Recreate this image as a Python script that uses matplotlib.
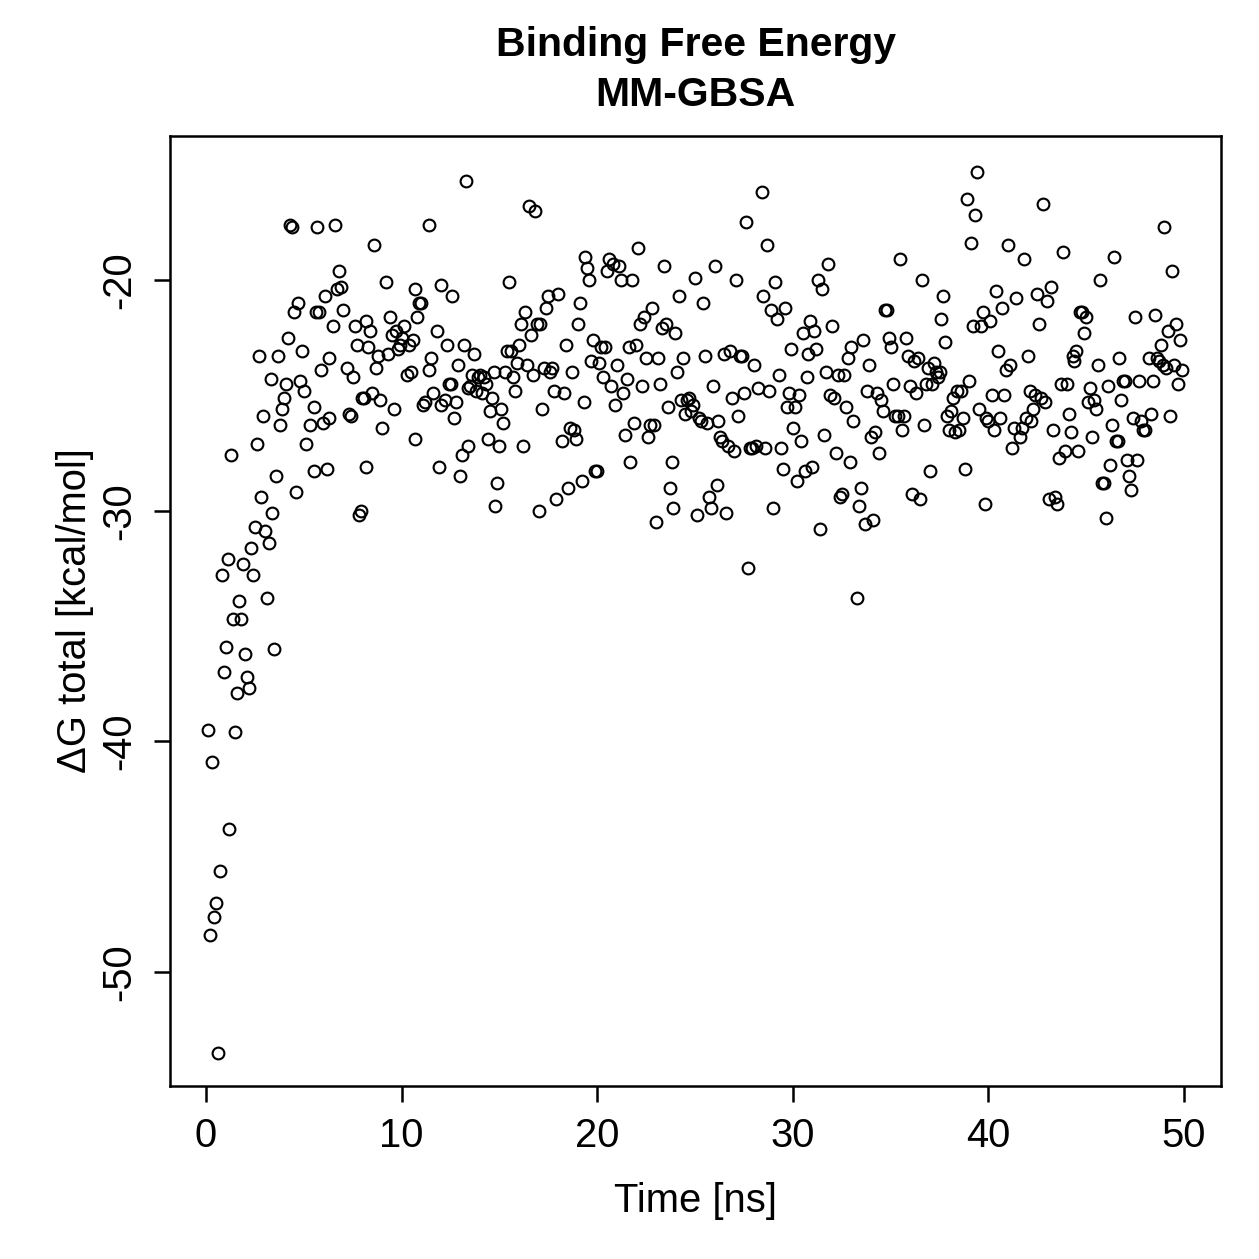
import matplotlib
matplotlib.use("Agg")
import matplotlib.pyplot as plt

# Time [ns]
time_ns = [
    0.1, 0.2, 0.3, 0.4, 0.5, 0.6, 0.7, 0.8, 0.9, 1.0, 1.1, 1.2, 1.3, 1.4, 1.5, 1.6, 1.7, 1.8, 1.9, 2.0,
    2.1, 2.2, 2.3, 2.4, 2.5, 2.6, 2.7, 2.8, 2.9, 3.0, 3.1, 3.2, 3.3, 3.4, 3.5, 3.6, 3.7, 3.8, 3.9, 4.0,
    4.1, 4.2, 4.3, 4.4, 4.5, 4.6, 4.7, 4.8, 4.9, 5.0,
    5.1, 5.3, 5.5, 5.5, 5.6, 5.7, 5.8, 5.9, 6.0, 6.1, 6.2, 6.3, 6.3, 6.5, 6.6, 6.7, 6.8, 6.9, 7.0, 7.2,
    7.3, 7.4, 7.5, 7.6, 7.7, 7.8, 7.9, 8.0, 8.1, 8.2, 8.2, 8.3, 8.4, 8.5, 8.6, 8.7, 8.8, 8.9, 9.0, 9.2,
    9.3, 9.4, 9.5, 9.6, 9.7, 9.8, 9.9, 10.0, 10.1, 10.3, 10.4, 10.5, 10.6, 10.7, 10.7, 10.8, 10.9, 11.0,
    11.1, 11.2, 11.4, 11.4, 11.5, 11.6, 11.8, 11.9, 12.0, 12.0, 12.2, 12.3, 12.4, 12.5, 12.6, 12.7, 12.8,
    12.9, 13.0, 13.1, 13.2, 13.3, 13.4, 13.4, 13.5, 13.6, 13.7,
    13.8, 13.9, 14.0, 14.1, 14.2, 14.3, 14.4, 14.5, 14.6, 14.7, 14.8, 14.9, 15.0, 15.1, 15.2, 15.3, 15.4,
    15.5, 15.6, 15.7, 15.8, 15.9, 16.0, 16.1, 16.2, 16.3, 16.4, 16.5, 16.6, 16.7, 16.8, 16.9, 17.0, 17.1,
    17.2, 17.3, 17.4, 17.5, 17.6, 17.7, 17.8, 17.9, 18.0, 18.2, 18.3, 18.4, 18.5, 18.6, 18.7, 18.8, 18.9,
    19.0, 19.1, 19.2, 19.3, 19.4, 19.5, 19.6, 19.7, 19.8, 19.9, 20.0, 20.1, 20.2, 20.3, 20.4, 20.5, 20.6,
    20.7, 20.8, 20.9, 21.0, 21.1, 21.2, 21.3, 21.4, 21.5, 21.6, 21.7, 21.8, 21.9, 22.0, 22.1, 22.2, 22.3,
    22.4, 22.5, 22.6, 22.7, 22.8, 22.9, 23.0, 23.1, 23.2, 23.3, 23.4, 23.5, 23.6, 23.7, 23.8, 23.9, 24.0,
    24.1, 24.2, 24.3, 24.4, 24.5, 24.6, 24.7, 24.8, 24.9, 25.0, 25.1, 25.2, 25.3, 25.4, 25.5, 25.6, 25.7,
    25.8, 25.9, 26.0, 26.1, 26.2, 26.3, 26.4, 26.5, 26.6, 26.7, 26.8, 26.9, 27.0, 27.1, 27.2, 27.3, 27.4,
    27.5, 27.6, 27.7, 27.8, 27.9, 28.0, 28.1, 28.2, 28.4, 28.5, 28.6, 28.7, 28.8, 28.9, 29.0, 29.1, 29.2,
    29.3, 29.4, 29.5, 29.6, 29.7, 29.8, 29.9, 30.0, 30.1, 30.2, 30.3, 30.4, 30.5, 30.6, 30.7, 30.8, 30.9,
    31.0, 31.1, 31.2, 31.3, 31.4, 31.5, 31.6, 31.7, 31.8, 31.9, 32.0, 32.1, 32.2, 32.3, 32.4, 32.5, 32.6,
    32.7, 32.8, 32.9, 33.0, 33.1, 33.3, 33.4, 33.5, 33.6, 33.7, 33.8, 33.9, 34.0, 34.1, 34.2, 34.3, 34.4,
    34.5, 34.6, 34.7, 34.8, 34.9, 35.0, 35.1, 35.2, 35.4, 35.5, 35.6, 35.7, 35.8, 35.9, 36.0, 36.1, 36.2,
    36.3, 36.4, 36.5, 36.6, 36.7, 36.8, 36.9, 37.0, 37.1, 37.2, 37.3, 37.4, 37.5, 37.6, 37.7, 37.8, 37.9,
    38.0, 38.1, 38.2, 38.3, 38.4, 38.5, 38.6, 38.7, 38.8, 38.9, 39.0, 39.1, 39.2, 39.3, 39.4, 39.5, 39.6,
    39.7, 39.8, 39.9, 40.0, 40.1, 40.2, 40.3, 40.4, 40.5, 40.6, 40.7, 40.8, 40.9, 41.0, 41.1, 41.2, 41.3,
    41.4, 41.6, 41.7, 41.8, 41.9, 42.0, 42.1, 42.2, 42.3, 42.4, 42.5, 42.6, 42.7, 42.8, 42.9, 43.0, 43.1,
    43.2, 43.3, 43.4, 43.5, 43.6, 43.7, 43.8, 43.9, 44.0, 44.1, 44.2, 44.3, 44.4, 44.5, 44.6, 44.7, 44.8,
    44.9, 45.0, 45.1, 45.2, 45.3, 45.4, 45.5, 45.6, 45.7, 45.8, 45.9, 46.0, 46.1, 46.2, 46.3, 46.4, 46.5,
    46.6, 46.7, 46.8, 46.9, 47.0, 47.1, 47.2, 47.3, 47.4, 47.5, 47.6, 47.7, 47.8, 47.9, 48.0, 48.2, 48.3,
    48.4, 48.5, 48.6, 48.7, 48.8, 48.9, 49.0, 49.1, 49.2, 49.3, 49.4, 49.5, 49.6, 49.7, 49.8, 49.9,
]

# Delta G total [kcal/mol]
dg_total = [
    -39.5, -48.4, -40.9, -47.6, -47.0, -53.5, -45.6, -32.8, -37.0, -35.9, -32.1, -43.8, -27.6, -34.7, -39.6, -37.9, -33.9, -34.7, -32.3, -36.2,
    -37.2, -37.7, -31.6, -32.8, -30.7, -27.1, -23.3, -29.4, -25.9, -30.9, -33.8, -31.4, -24.3, -30.1, -36.0, -28.5, -23.3, -26.3, -25.6, -25.1,
    -24.5, -22.5, -17.6, -17.7, -21.4, -29.2, -21.0, -24.4, -23.1, -24.8,
    -27.1, -26.3, -28.3, -25.5, -21.4, -17.7, -21.4, -23.9, -26.2, -20.7, -28.2, -23.4, -26.0, -22.0, -17.6, -20.4, -19.6, -20.3, -21.3, -23.8,
    -25.8, -25.9, -24.2, -22.0, -22.8, -30.2, -30.0, -25.1, -25.1, -28.1, -21.8, -22.9, -22.2, -24.9, -18.5, -23.8, -23.3, -25.2, -26.4, -20.1,
    -23.2, -21.6, -22.4, -25.6, -22.2, -23.0, -22.8, -22.5, -22.0, -24.1, -22.8, -24.0, -22.6, -26.9, -20.4, -21.6, -21.0, -21.0,
    -25.4, -25.3, -17.6, -23.9, -23.4, -24.9, -22.2, -28.1, -25.4, -20.2, -25.2, -22.8, -24.5, -24.5, -20.7, -26.0, -25.3,
    -23.7, -28.5, -27.6, -22.8, -15.7, -27.2, -24.7, -24.6, -24.1, -23.2,
    -24.8, -24.2, -24.1, -24.9, -24.2, -24.5, -26.9, -25.7, -25.1, -24.0, -29.8, -28.8, -27.2, -25.6, -26.2, -24.0, -23.1,
    -20.1, -23.1, -24.2, -24.8, -23.6, -22.8, -21.9, -27.2, -21.4, -23.7, -16.8, -22.4, -24.1, -17.0, -21.9, -30.0, -21.9,
    -25.6, -23.8, -21.2, -20.7, -24.0, -23.8, -24.8, -29.5, -20.6, -27.0, -24.9, -22.8, -29.0, -26.4, -24.0, -26.5, -26.9,
    -21.9, -21.0, -28.7, -25.3, -19.0, -19.5, -20.0, -23.5, -22.6, -28.3, -28.3, -23.6, -22.9, -24.2, -22.9, -19.6, -19.1,
    -24.6, -19.3, -25.4, -23.7, -19.4, -20.0, -24.9, -26.7, -24.3, -22.9, -27.9, -20.0, -26.2, -22.8, -18.6, -21.9, -24.6,
    -21.6, -23.4, -26.8, -26.3, -21.2, -26.3, -30.5, -23.4, -24.5, -22.1, -19.4, -21.9, -25.5, -29.0, -27.9, -29.9, -22.3,
    -24.0, -20.7, -25.2, -23.4, -25.8, -25.2, -25.1, -25.7, -25.4, -19.9, -30.2, -26.0, -26.1, -21.0, -23.3, -26.2, -29.4,
    -29.9, -24.6, -19.4, -28.9, -26.1, -26.8, -27.0, -23.2, -30.1, -27.2, -23.1, -25.1, -27.4, -20.0, -25.9, -23.3, -23.3,
    -24.9, -17.5, -32.5, -27.3, -27.3, -23.7, -27.2, -24.7, -16.2, -20.7, -27.3, -18.5, -24.8, -21.3, -29.9, -20.1, -21.7,
    -24.1, -27.3, -28.2, -21.2, -25.5, -24.9, -23.0, -26.4, -25.5, -28.7, -25.0, -27.0, -22.3, -28.3, -24.2, -23.2, -21.8,
    -28.1, -22.2, -23.0, -20.0, -30.8, -20.4, -26.7, -24.0, -19.3, -25.0, -22.0, -25.1, -27.5, -24.1, -29.4, -29.3, -24.1,
    -25.5, -23.4, -27.9, -22.9, -26.1, -33.8, -29.8, -29.0, -22.6, -30.6, -24.8, -23.7, -26.8, -30.4, -26.6, -24.9, -27.5,
    -25.2, -25.7, -21.3, -21.3, -22.5, -22.9, -24.5, -25.9, -25.9, -19.1, -26.5, -25.9, -22.5, -23.3, -24.6, -29.3, -23.5,
    -24.9, -23.4, -29.5, -20.0, -26.3, -24.5, -23.8, -28.3, -24.5, -23.6, -24.0, -24.2, -24.0, -21.7, -20.7, -22.7, -25.9,
    -26.5, -25.7, -25.1, -26.6, -24.8, -26.5, -24.8, -26.0, -28.2, -16.5, -24.4, -18.4, -22.0, -17.2, -15.3, -25.6, -22.0,
    -21.4, -29.7, -26.0, -26.1, -21.8, -25.0, -26.5, -20.5, -23.1, -26.0, -21.2, -25.0, -23.9, -18.5, -23.7, -27.3, -26.4,
    -20.8, -26.8, -26.4, -19.1, -26.0, -23.3, -24.8, -26.1, -25.6, -25.0, -20.6, -21.9, -25.1, -16.7, -25.3, -20.9, -29.5,
    -20.3, -26.5, -29.4, -29.7, -27.7, -24.5, -18.8, -27.4, -24.5, -25.8, -26.6, -23.3, -23.5, -23.1, -27.4, -21.4, -21.4,
    -22.3, -21.6, -25.3, -24.7, -26.8, -25.2, -25.6, -23.7, -20.0, -28.8, -28.8, -30.3, -24.6, -28.0, -26.3, -19.0, -27.0,
    -27.0, -23.4, -25.2, -24.4, -24.4, -27.8, -28.5, -29.1, -26.0, -21.6, -27.8, -24.4, -26.1, -26.5, -26.5, -23.4, -25.8,
    -24.4, -21.5, -23.4, -23.5, -22.8, -23.7, -17.7, -23.8, -22.2, -25.9, -19.6, -23.7, -21.9, -24.5, -22.6, -23.9,
]

x_ticks = [0, 10, 20, 30, 40, 50]
y_ticks = [-50, -40, -30, -20]

plt.rcParams['font.family'] = ['Liberation Sans', 'DejaVu Sans']

W = 1259
fig = plt.figure(figsize=(W / 180, W / 180), dpi=180)
ax = fig.add_axes([170 / W, 1 - 1086 / W, (1221 - 170) / W, (1086 - 136) / W])

ax.plot(time_ns, dg_total, linestyle='none', marker='o', markersize=4.7,
        markerfacecolor='none', markeredgecolor='black', markeredgewidth=0.85)

ax.set_xlim(-1.84, 51.89)
ax.set_ylim(-54.94, -13.76)
ax.set_xticks(x_ticks)
ax.set_yticks(y_ticks)
ax.set_xticklabels([str(v) for v in x_ticks])
ax.set_yticklabels([str(v) for v in y_ticks], rotation=90, va='center')
ax.tick_params(axis='both', direction='out', length=6.4, width=1.0, labelsize=16, color='black')
ax.tick_params(axis='x', pad=6.0)
ax.tick_params(axis='y', pad=6.5)
for s in ax.spines.values():
    s.set_linewidth(1.0)

ax.set_xlabel('Time [ns]', fontsize=16)
ax.xaxis.set_label_coords(0.5, -(1201 - 1086) / 950)
ax.xaxis.label.set_va('center')
ax.set_ylabel('ΔG total [kcal/mol]', fontsize=16)
ax.yaxis.set_label_coords(-(170 - 75) / 1051, 0.5)
ax.yaxis.label.set_va('center')

fig.text(695.5 / W, 1 - 45 / W, 'Binding Free Energy', ha='center', va='center',
         fontsize=16.4, fontweight='bold')
fig.text(695.5 / W, 1 - 95 / W, 'MM-GBSA', ha='center', va='center',
         fontsize=16.4, fontweight='bold')

fig.savefig('out.png', dpi=180)
